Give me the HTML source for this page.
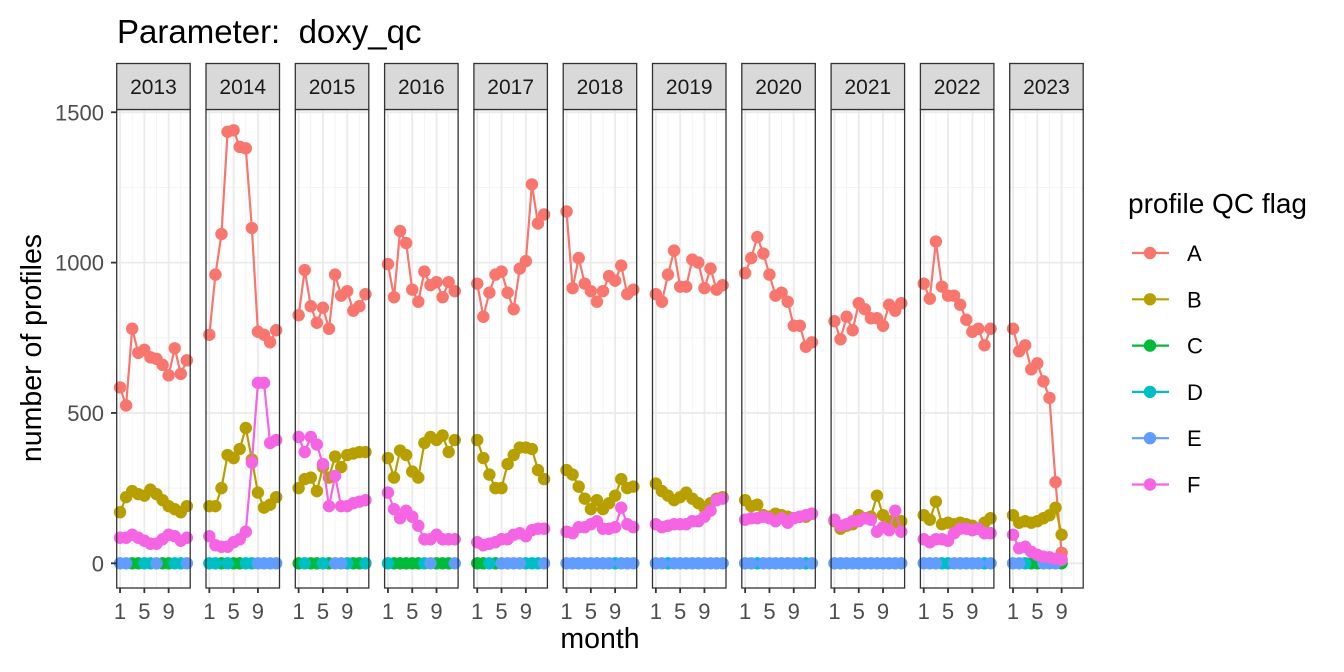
<!DOCTYPE html>
<html><head><meta charset="utf-8"><style>
body{margin:0;background:#fff}
svg{display:block;font-family:"Liberation Sans",Arial,sans-serif}
</style></head><body>
<svg id="chart" width="1344" height="672" viewBox="0 0 1344 672" xmlns="http://www.w3.org/2000/svg">
<text x="117" y="43" font-size="33" fill="#000" xml:space="preserve" style="white-space:pre">Parameter:  doxy_qc</text>
<text transform="translate(41,348) rotate(-90)" text-anchor="middle" font-size="28.5" fill="#000">number of profiles</text>
<text x="600" y="648" text-anchor="middle" font-size="28.5" fill="#000">month</text>
<g id="panels"></g>
<g id="legend"></g>
</svg>
<script>
const years=["2013","2014","2015","2016","2017","2018","2019","2020","2021","2022","2023"];
const flags=["A","B","C","D","E","F"];
const yTicks=[0,500,1000,1500];
const xTicks=[1,5,9];
const A=[
[585,525,780,700,710,685,680,660,625,715,630,675],
[760,960,1095,1435,1440,1385,1380,1115,770,760,735,775],
[825,975,855,800,850,780,960,890,905,840,855,895],
[995,885,1105,1065,910,870,970,925,935,885,935,905],
[930,820,900,960,970,900,845,980,1005,1260,1130,1160],
[1170,915,1015,930,905,870,905,955,940,990,895,910],
[895,870,960,1040,920,920,1010,1000,915,980,910,925],
[965,1015,1085,1030,960,890,900,870,790,790,720,735],
[805,745,820,775,865,845,815,815,790,860,840,865],
[930,880,1070,920,890,890,860,810,770,780,725,780],
[780,705,725,645,665,605,550,270,35]];
const B=[
[170,220,240,230,225,245,230,210,190,180,170,190],
[190,190,250,360,350,380,450,345,235,185,195,220],
[250,280,285,240,320,285,355,320,360,365,370,370],
[350,285,375,360,305,285,400,420,410,425,370,410],
[410,350,295,250,250,330,360,385,385,380,310,280],
[310,295,255,215,180,210,180,200,225,280,250,255],
[265,240,225,210,220,235,215,200,185,200,215,220],
[210,190,195,160,155,165,160,155,150,155,155,165],
[140,115,125,130,160,150,155,225,160,140,135,140],
[160,145,205,130,135,130,135,130,125,115,135,150],
[160,135,140,135,140,150,160,185,95]];
const F=[
[85,85,95,85,75,65,65,80,95,90,75,85],
[90,60,55,55,70,80,105,335,600,600,400,410],
[420,370,420,395,330,190,290,190,190,200,205,210],
[235,180,150,175,155,125,80,80,95,80,80,80],
[70,60,65,70,80,80,95,100,90,110,115,115],
[105,100,120,120,130,140,115,115,120,185,130,120],
[130,120,125,130,130,130,140,140,155,175,210,215],
[145,150,150,155,150,140,150,135,150,155,160,165],
[145,125,130,140,140,150,145,105,120,110,175,105],
[80,70,80,80,75,100,115,115,110,115,100,100],
[95,50,55,38,28,22,20,15,12]];
// flag shown on top at the zero line, per year per month
const zeroTop=["EECCDDECCDDE","DDCDCCDDEEEE","CDCCDCEEDCCD","DCCCCCDECCCE","CCDCEEEEDDDE","EEEEEEEEDEEE","EEDEEEEEEEEE","EEDEEEEEEEDE","EEEEEEEEEEEE","EEEDDEEEEEDE","EEDCCEEEC"];
const zeroVal=[0,0,0,0,0,0,0,0,0,0,0];
const colors={A:"#F8766D",B:"#B79F00",C:"#00BA38",D:"#00BFC4",E:"#619CFF",F:"#F564E3"};
const NS="http://www.w3.org/2000/svg";
const P0=116.7,PITCH=89.3,PW=73.5,PT=109.5,PB=588,STRIPT=63.5,R=6.2;
function yS(v){return 563.3-v*0.3007;}
function xS(p,m){return P0+p*PITCH+(m-0.45)*(PW/12.1);}
function mk(t,a,parent){const e=document.createElementNS(NS,t);for(const k in a)e.setAttribute(k,a[k]);parent.appendChild(e);return e;}
const root=document.getElementById('panels');
years.forEach((yr,p)=>{
  const L=P0+p*PITCH;
  const g=mk('g',{},root);
  
  
  mk('rect',{x:L,y:PT,width:PW,height:PB-PT,fill:'#fff'},g);
  [250,750,1250].forEach(v=>mk('line',{x1:L,x2:L+PW,y1:yS(v),y2:yS(v),stroke:'#f2f2f2','stroke-width':0.9},g));
  [3,7,11].forEach(m=>mk('line',{x1:xS(p,m),x2:xS(p,m),y1:PT,y2:PB,stroke:'#f2f2f2','stroke-width':0.9},g));
  yTicks.forEach(v=>mk('line',{x1:L,x2:L+PW,y1:yS(v),y2:yS(v),stroke:'#ebebeb','stroke-width':1.8},g));
  xTicks.forEach(m=>mk('line',{x1:xS(p,m),x2:xS(p,m),y1:PT,y2:PB,stroke:'#ebebeb','stroke-width':1.8},g));
  const zt=zeroTop[p];
  ["C","D","E"].forEach(f=>{
    for(let i=0;i<zt.length;i++){ if(zt[i]!==f) continue;
      if(i+1<zt.length&&zt[i+1]===f) mk('line',{x1:xS(p,i+1),x2:xS(p,i+2),y1:yS(zeroVal[p]),y2:yS(zeroVal[p]),stroke:colors[f],'stroke-width':2.2},g);
      const c=mk('circle',{cx:xS(p,i+1),cy:yS(zeroVal[p]),r:R,fill:colors[f]},g);
      
      
    }
  });
  [["A",A],["B",B],["F",F]].forEach(([f,arr])=>{
    const vals=arr[p];
    const pts=vals.map((v,i)=>xS(p,i+1)+','+yS(v)).join(' ');
    const pl=mk('polyline',{points:pts,fill:'none',stroke:colors[f],'stroke-width':2.2},g);
    
    
    vals.forEach((v,i)=>{
      const c=mk('circle',{cx:xS(p,i+1),cy:yS(v),r:R,fill:colors[f]},g);
      
      
    });
  });
  mk('rect',{x:L,y:PT,width:PW,height:PB-PT,fill:'none',stroke:'#333','stroke-width':1.3},g);
  const s=mk('rect',{x:L,y:STRIPT,width:PW,height:PT-STRIPT,fill:'#d9d9d9',stroke:'#333','stroke-width':1.3},g);
  
  
  const st=mk('text',{x:L+PW/2,y:94,'text-anchor':'middle','font-size':21,fill:'#1a1a1a'},g);
  st.textContent=yr;
  xTicks.forEach(m=>{
    mk('line',{x1:xS(p,m),x2:xS(p,m),y1:PB,y2:PB+5,stroke:'#333','stroke-width':1.8},g);
    const t=mk('text',{x:xS(p,m),y:619,'text-anchor':'middle','font-size':22,fill:'#4d4d4d'},g);
    
    
    t.textContent=m;
  });
});
yTicks.forEach(v=>{
  mk('line',{x1:111,x2:116.7,y1:yS(v),y2:yS(v),stroke:'#333','stroke-width':1.8},root);
  const t=mk('text',{x:104,y:yS(v)+8,'text-anchor':'end','font-size':22,fill:'#4d4d4d'},root);
  
  
  t.textContent=v;
});
const lg=document.getElementById('legend');
mk('text',{x:1128,y:213,'font-size':28,fill:'#000'},lg).textContent='profile QC flag';
flags.forEach((f,i)=>{
  const y=253+i*46.3;
  const e=mk('g',{},lg);
  
  
  mk('line',{x1:1132,x2:1169,y1:y,y2:y,stroke:colors[f],'stroke-width':2.2},e);
  mk('circle',{cx:1150,cy:y,r:R,fill:colors[f]},e);
  mk('text',{x:1187,y:y+8,'font-size':22,fill:'#000'},e).textContent=f;
});
</script>
</body></html>
